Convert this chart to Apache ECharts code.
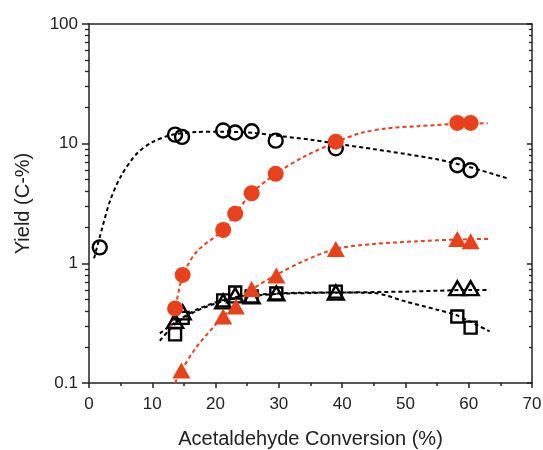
<!DOCTYPE html>
<html>
<head>
<meta charset="utf-8">
<script src="https://cdn.jsdelivr.net/npm/echarts@6/dist/echarts.min.js"></script>
<style>
  html, body { margin: 0; padding: 0; background: #ffffff; }
  #chart { width: 543px; height: 450px; }
</style>
</head>
<body>
<div id="chart"></div>
<script>
// Axis ticks
const xTicks = [0, 10, 20, 30, 40, 50, 60, 70];
const yMajorTicks = [0.1, 1, 10, 100];
const yMinorTicks = [0.2, 0.3, 0.4, 0.5, 0.6, 0.7, 0.8, 0.9,
                     2, 3, 4, 5, 6, 7, 8, 9,
                     20, 30, 40, 50, 60, 70, 80, 90];

// Measured yields (C-%) versus acetaldehyde conversion (%)
const convOpenCircle = [1.7, 13.6, 14.7, 21.2, 23.1, 25.7, 29.5, 39.0, 58.2, 60.3];
const yieldOpenCircle = [1.36, 11.9, 11.4, 12.9, 12.4, 12.7, 10.6, 9.15, 6.6, 6.0];

const convRedCircle = [13.6, 14.8, 21.2, 23.1, 25.7, 29.5, 39.0, 58.2, 60.3];
const yieldRedCircle = [0.42, 0.80, 1.90, 2.6, 3.85, 5.6, 10.4, 14.9, 14.9];

const convRedTriangle = [14.6, 21.2, 23.2, 25.7, 29.6, 39.0, 58.2, 60.3];
const yieldRedTriangle = [0.127, 0.36, 0.435, 0.61, 0.79, 1.32, 1.6, 1.53];

const convOpenTriangle = [13.6, 14.8, 21.2, 23.1, 25.7, 29.6, 39.0, 58.2, 60.3];
const yieldOpenTriangle = [0.33, 0.39, 0.48, 0.54, 0.53, 0.56, 0.57, 0.62, 0.62];

const convOpenSquare = [13.6, 14.8, 21.2, 23.1, 25.7, 29.6, 39.0, 58.2, 60.3];
const yieldOpenSquare = [0.255, 0.35, 0.49, 0.57, 0.53, 0.56, 0.58, 0.36, 0.29];

// Trend curves (dashed guides)
const trendOpenCircleX = [0.8, 2, 3.3, 5, 7.5, 10, 13, 17, 21, 26, 30, 35, 39, 45, 50, 55, 60, 66];
const trendOpenCircleY = [1.1, 1.9, 3.3, 5.3, 8.2, 10.3, 11.8, 12.5, 12.6, 12.3, 11.6, 10.8, 10.0, 9.0, 8.2, 7.4, 6.4, 5.15];

const trendRedCircleX = [12.5, 13.6, 14.8, 17, 21.2, 23.1, 25.7, 29.5, 34, 39, 43, 47, 52, 58, 63];
const trendRedCircleY = [0.26, 0.42, 0.78, 1.25, 1.9, 2.6, 3.85, 5.6, 7.8, 10.3, 12.3, 13.4, 14.0, 14.6, 14.8];

const trendRedTriangleX = [13.6, 14.6, 17, 21.2, 23.2, 25.7, 29.6, 34, 39, 45, 52, 58, 63.3];
const trendRedTriangleY = [0.10, 0.127, 0.2, 0.36, 0.44, 0.6, 0.8, 1.05, 1.32, 1.45, 1.53, 1.58, 1.6];

const trendOpenTriangleX = [11.2, 13.6, 17, 21, 25, 30, 35, 40, 45, 50, 55, 60, 63.3];
const trendOpenTriangleY = [0.225, 0.31, 0.4, 0.48, 0.53, 0.555, 0.565, 0.57, 0.575, 0.58, 0.59, 0.6, 0.6];

const trendOpenSquareX = [11.2, 13.6, 17, 21, 25, 30, 35, 40, 45, 50, 55, 58, 60, 63.3];
const trendOpenSquareY = [0.26, 0.32, 0.41, 0.49, 0.54, 0.56, 0.57, 0.57, 0.565, 0.48, 0.41, 0.37, 0.33, 0.27];

const RED = '#e8411c';
const INK = '#000000';
const FONT = 'Liberation Sans, Arial, sans-serif';

const pairs = (xs, ys) => xs.map((x, i) => [x, ys[i]]);

function trend(xs, ys, color) {
  return {
    type: 'line',
    data: pairs(xs, ys),
    smooth: 0.3,
    showSymbol: false,
    silent: true,
    z: 2,
    lineStyle: { color: color, width: 2, type: [4, 3], opacity: 1 }
  };
}

function marks(xs, ys, symbol, size, filled, color) {
  return {
    type: 'scatter',
    data: pairs(xs, ys),
    symbol: symbol,
    symbolSize: size,
    z: filled ? 4 : 3,
    itemStyle: filled
      ? { color: color, borderWidth: 0, opacity: 1 }
      : { color: 'rgba(255,255,255,0)', borderColor: color, borderWidth: 2.4, opacity: 1 }
  };
}

const chart = echarts.init(document.getElementById('chart'), null, { renderer: 'canvas' });

const logAxisBase = {
  type: 'log',
  logBase: 10,
  min: 0.1,
  max: 100,
  splitLine: { show: false },
  axisLine: { onZero: false, lineStyle: { color: '#222', width: 1.5 } }
};

chart.setOption({
  backgroundColor: '#ffffff',
  animation: false,
  textStyle: { fontFamily: FONT },
  grid: { left: 89, right: 11, top: 24, bottom: 67, containLabel: false, outerBoundsMode: 'none' },
  xAxis: [
    {
      type: 'value',
      min: xTicks[0],
      max: xTicks[xTicks.length - 1],
      interval: 10,
      position: 'bottom',
      name: 'Acetaldehyde Conversion (%)',
      nameLocation: 'middle',
      nameGap: 46,
      nameTextStyle: { fontSize: 20, color: '#222', fontFamily: FONT },
      splitLine: { show: false },
      axisLine: { onZero: false, lineStyle: { color: '#222', width: 1.5 } },
      axisTick: { show: true, inside: false, length: 5, lineStyle: { color: '#222', width: 1.5 } },
      minorTick: { show: true, splitNumber: 2, length: 3, lineStyle: { color: '#222', width: 1.5 } },
      axisLabel: { fontSize: 17, color: '#222', margin: 13, fontFamily: FONT }
    },
    {
      type: 'value',
      min: xTicks[0],
      max: xTicks[xTicks.length - 1],
      position: 'top',
      splitLine: { show: false },
      axisLine: { onZero: false, lineStyle: { color: '#222', width: 1.5 } },
      axisTick: { show: false },
      axisLabel: { show: false }
    }
  ],
  yAxis: [
    Object.assign({}, logAxisBase, {
      position: 'left',
      name: 'Yield (C-%)',
      nameLocation: 'middle',
      nameGap: 56,
      nameTextStyle: { fontSize: 20, color: '#222', fontFamily: FONT },
      axisTick: { show: true, inside: false, length: 7, customValues: yMajorTicks, lineStyle: { color: '#222', width: 1.5 } },
      axisLabel: {
        fontSize: 17, color: '#222', margin: 11, fontFamily: FONT,
        customValues: yMajorTicks,
        formatter: v => String(v)
      }
    }),
    Object.assign({}, logAxisBase, {
      position: 'left',
      axisLine: { show: false, onZero: false },
      axisTick: { show: true, inside: false, length: 4, customValues: yMinorTicks, lineStyle: { color: '#222', width: 1.3 } },
      axisLabel: { show: false }
    }),
    Object.assign({}, logAxisBase, {
      position: 'right',
      axisTick: { show: true, inside: true, length: 5, customValues: yMajorTicks, lineStyle: { color: '#222', width: 1.5 } },
      axisLabel: { show: false }
    }),
    Object.assign({}, logAxisBase, {
      position: 'right',
      axisLine: { show: false, onZero: false },
      axisTick: { show: true, inside: true, length: 3, customValues: yMinorTicks, lineStyle: { color: '#222', width: 1.3 } },
      axisLabel: { show: false }
    })
  ],
  series: [
    trend(trendOpenCircleX, trendOpenCircleY, INK),
    trend(trendOpenTriangleX, trendOpenTriangleY, INK),
    trend(trendOpenSquareX, trendOpenSquareY, INK),
    trend(trendRedCircleX, trendRedCircleY, RED),
    trend(trendRedTriangleX, trendRedTriangleY, RED),
    marks(convOpenCircle, yieldOpenCircle, 'circle', 14, false, INK),
    marks(convOpenSquare, yieldOpenSquare, 'rect', 12, false, INK),
    marks(convOpenTriangle, yieldOpenTriangle, 'triangle', [16, 14], false, INK),
    marks(convRedCircle, yieldRedCircle, 'circle', 16, true, RED),
    marks(convRedTriangle, yieldRedTriangle, 'triangle', [18, 16], true, RED)
  ]
});
</script>
</body>
</html>
